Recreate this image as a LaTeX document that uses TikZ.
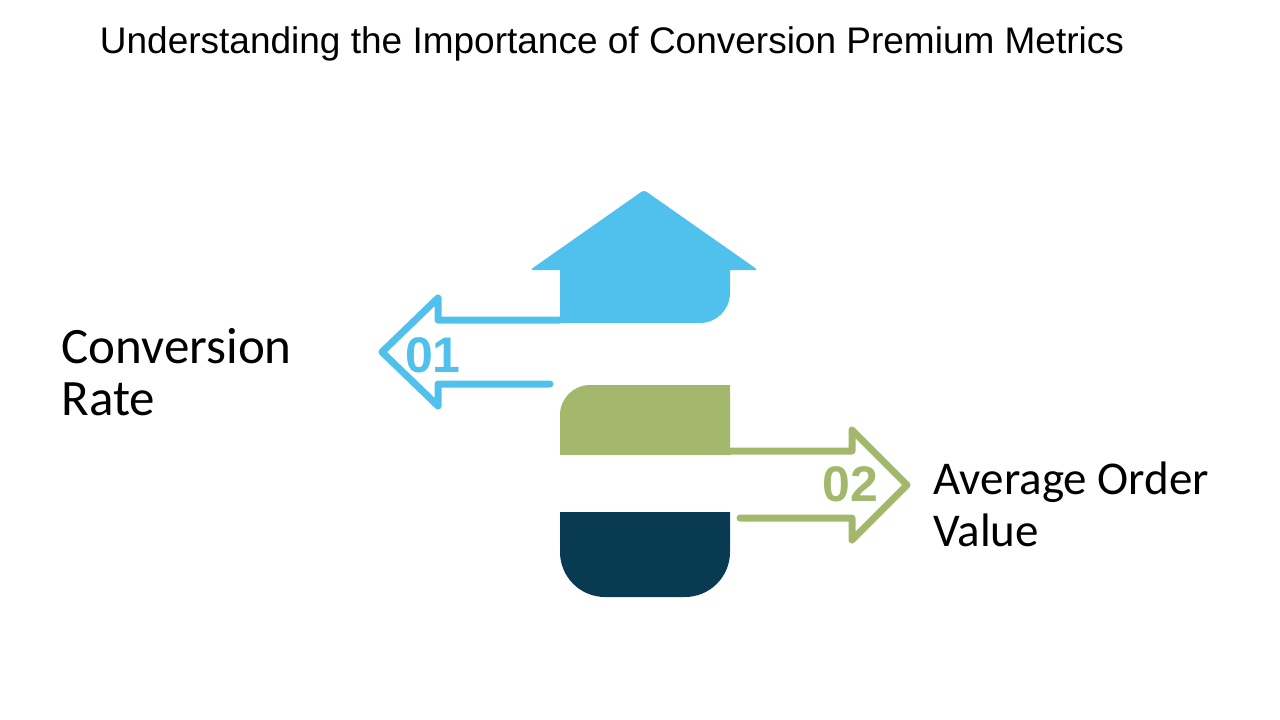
\documentclass[tikz,border=0pt]{standalone}
\usepackage{fontspec}
\setmainfont{Liberation Sans}
\newfontfamily\labfont{Carlito}
\usetikzlibrary{positioning}
\definecolor{skyblue}{HTML}{4FC1EC}
\definecolor{olivegreen}{HTML}{A3B86C}
\definecolor{navyblue}{HTML}{083A52}
\begin{document}
\begin{tikzpicture}[
    x=1pt, y=-1pt,
    outline/.style={line width=7pt, line join=round, line cap=round},
    num/.style={font=\fontsize{50}{50}\selectfont\bfseries},
    lab/.style={font=\labfont\fontsize{47}{52}\selectfont, align=left, anchor=west}
]
\useasboundingbox (0,0) rectangle (1280,720);

% title
\node[font=\fontsize{37}{37}\selectfont] (title) at (612,44) {Understanding the Importance of Conversion Premium Metrics};

% blue house with left arrow
\fill[skyblue, rounded corners=3pt] (530,270) -- (644,190) -- (758,270) -- cycle;
\fill[skyblue] (560,268) -- (730,268) -- (730,293) arc (0:90:30) -- (560,323) -- cycle;
\draw[skyblue, outline] (560,320) -- (438,320) -- (438,298) -- (382,352)
    -- (438,406) -- (438,384) -- (550,384);
\node[num, text=skyblue] (one) at (433,355) {01};

% green block with right arrow
\fill[olivegreen] (560,415) arc (180:270:30) -- (730,385) -- (730,455) -- (560,455) -- cycle;
\draw[olivegreen, outline] (730,451) -- (852,451) -- (852,430) -- (907,485)
    -- (852,540) -- (852,518) -- (740,518);
\node[num, text=olivegreen] (two) at (850,484) {02};

% navy base
\fill[navyblue] (560,512) -- (730,512) -- (730,552) arc (0:90:45) -- (605,597) arc (90:180:45) -- cycle;

% labels
\node[lab, font=\labfont\fontsize{51}{52}\selectfont] (rate) at (58,372) {Conversion\\Rate};
\node[lab] (aov) at (930,504) {Average Order\\Value};
\end{tikzpicture}
\end{document}
